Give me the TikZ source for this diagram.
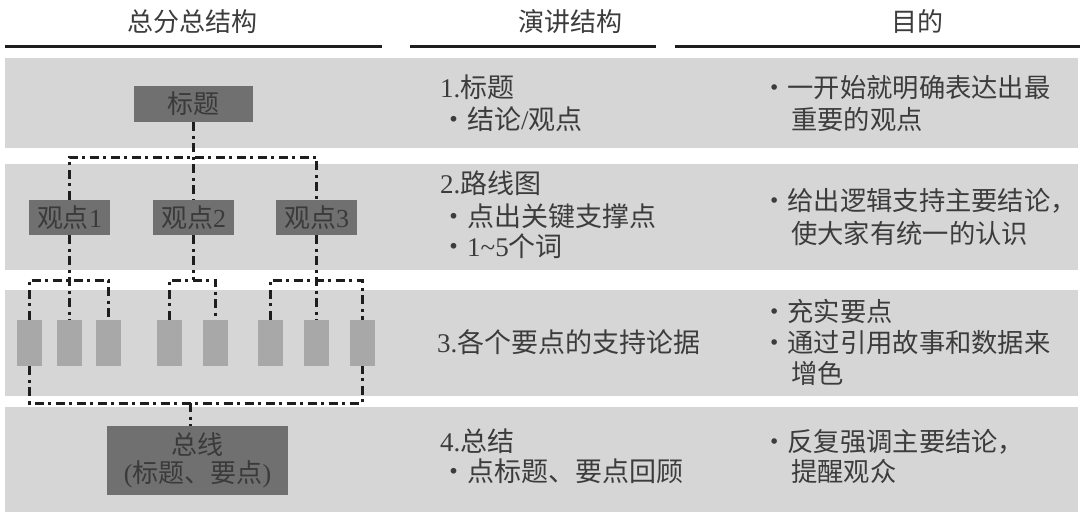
\documentclass[tikz,border=0pt]{standalone}
\usepackage{fontspec}
\setmainfont{Liberation Serif}
\newfontfamily\cjk{Noto Sans CJK SC}
\newcommand{\C}[1]{{\cjk #1}}
\definecolor{bandc}{HTML}{D6D6D6}
\definecolor{darkc}{HTML}{707070}
\definecolor{midc}{HTML}{A8A8A8}
\definecolor{textc}{HTML}{3C3C3C}
\definecolor{boxtext}{HTML}{3A3A3A}
\definecolor{linec}{HTML}{1E1E1E}
\tikzset{
  band/.style={fill=bandc},
  hline/.style={draw=linec, line width=3pt},
  darkbox/.style={fill=darkc, inner sep=0pt, text=boxtext, font=\fontsize{26}{30}\selectfont, align=center},
  smallbox/.style={fill=midc, inner sep=0pt, minimum width=25pt, minimum height=46pt},
  txt/.style={anchor=base west, inner sep=0pt, text=textc, font=\fontsize{27}{32}\selectfont},
  rtxt/.style={anchor=base west, inner sep=0pt, text=textc, font=\fontsize{26.3}{31}\selectfont},
  head/.style={anchor=base, inner sep=0pt, text=textc, font=\fontsize{26}{30}\selectfont},
  dd/.style={draw=linec, line width=3pt, dash pattern=on 9pt off 4.5pt on 3pt off 4.5pt}
}
\begin{document}
\begin{tikzpicture}[x=1pt,y=-1pt]
\useasboundingbox (0,0) rectangle (1080,519);
\fill[white] (0,0) rectangle (1080,519);
% headers
\node[head] (h1) at (192,32) {\C{总分总结构}};
\node[head] (h2) at (570,32) {\C{演讲结构}};
\node[head] (h3) at (917,32) {\C{目的}};
\draw[hline] (5,47) -- (382,47);
\draw[hline] (410,47) -- (656,47);
\draw[hline] (675,47) -- (1080,47);
% bands
\fill[band] (5,58) rectangle (1078,148);
\fill[band] (5,164) rectangle (1078,270);
\fill[band] (5,290) rectangle (1078,396);
\fill[band] (5,407) rectangle (1078,512);
% boxes
\node[darkbox, minimum width=119pt, minimum height=36pt] (t) at (193.5,104) {\C{标题}};
\node[darkbox, minimum width=81pt, minimum height=35pt] (v1) at (69.5,217.5) {\C{观点}1};
\node[darkbox, minimum width=81pt, minimum height=35pt] (v2) at (193.5,217.5) {\C{观点}2};
\node[darkbox, minimum width=81pt, minimum height=35pt] (v3) at (316.5,217.5) {\C{观点}3};
\node[smallbox] (r1) at (29.5,343) {};
\node[smallbox] (r2) at (69.5,343) {};
\node[smallbox] (r3) at (108.5,343) {};
\node[smallbox] (r4) at (169.5,343) {};
\node[smallbox] (r5) at (215.5,343) {};
\node[smallbox] (r6) at (270.5,343) {};
\node[smallbox] (r7) at (316.5,343) {};
\node[smallbox] (r8) at (362.5,343) {};
\node[darkbox, minimum width=181pt, minimum height=69pt] (s) at (197.5,460.5) {\C{总线}\\[-2pt](\C{标题、要点})};
% junction coordinates
\coordinate (j1) at (193.5,157);
\coordinate (g) at (193.5,280);
\coordinate (bj) at (190,403);
% connectors
\draw[dd] (t.south) -- (v2.north);
\draw[dd] (v1.north) -- (v1.north |- j1) -- (v3.north |- j1) -- (v3.north);
\draw[dd] (r1.north) -- (r1.north |- g) -- (r3.north |- g) -- (r3.north);
\draw[dd] (v1.south) -- (r2.north);
\draw[dd] (r4.north) -- (r4.north |- g) -- (r5.north |- g) -- (r5.north);
\draw[dd] (v2.south) -- (g);
\draw[dd] (r6.north) -- (r6.north |- g) -- (r8.north |- g) -- (r8.north);
\draw[dd] (v3.south) -- (r7.north);
\draw[dd] (r1.south) -- (r1.south |- bj) -- (r8.south |- bj) -- (r8.south);
\draw[dd] (bj) -- (bj |- s.north);
% middle column
\node[txt] (m1a) at (440,98) {1.\C{标题}};
\node[txt] (m1b) at (440,129) {\C{・结论}/\C{观点}};
\node[txt] (m2a) at (440,193) {2.\C{路线图}};
\node[txt] (m2b) at (440,226) {\C{・点出关键支撑点}};
\node[txt] (m2c) at (440,256) {\C{・}1\textasciitilde5\C{个词}};
\node[txt] (m3a) at (437,352) {3.\C{各个要点的支持论据}};
\node[txt] (m4a) at (440,451) {4.\C{总结}};
\node[txt] (m4b) at (440,481) {\C{・点标题、要点回顾}};
% right column
\node[rtxt] (p1a) at (761,98) {\C{・一开始就明确表达出最}};
\node[rtxt] (p1b) at (791,129) {\C{重要的观点}};
\node[rtxt] (p2a) at (761,210) {\C{・给出逻辑支持主要结论，}};
\node[rtxt] (p2b) at (791,243) {\C{使大家有统一的认识}};
\node[rtxt] (p3a) at (761,321) {\C{・充实要点}};
\node[rtxt] (p3b) at (761,352) {\C{・通过引用故事和数据来}};
\node[rtxt] (p3c) at (791,383) {\C{增色}};
\node[rtxt] (p4a) at (761,451) {\C{・反复强调主要结论，}};
\node[rtxt] (p4b) at (791,481) {\C{提醒观众}};
\end{tikzpicture}
\end{document}
